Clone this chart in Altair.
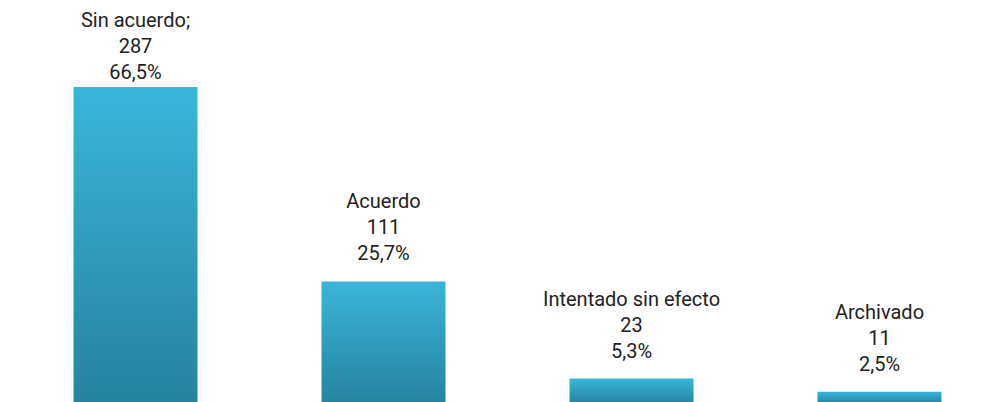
import altair as alt
import pandas as pd

categories = ["Sin acuerdo;", "Acuerdo", "Intentado sin efecto", "Archivado"]
counts = [287, 111, 23, 11]
percents = ["66,5%", "25,7%", "5,3%", "2,5%"]

df = pd.DataFrame({
    "cat": categories,
    "n": counts,
    "pct": percents,
})
df["nlabel"] = df["n"].astype(str)

x = alt.X("cat:N", sort=categories, axis=None,
          scale=alt.Scale(range=[3.5, 995.5], paddingInner=0.5, paddingOuter=0.25))
y = alt.Y("n:Q", axis=None, scale=alt.Scale(domain=[0, 287], range=[396, 79]))

grad = alt.Gradient(
    gradient="linear",
    stops=[alt.GradientStop(color="#39B5DA", offset=0),
           alt.GradientStop(color="#2683A0", offset=1)],
    x1=0, x2=0, y1=0, y2=1,
)

bars = alt.Chart(df).mark_bar(fill=grad, clip=False).encode(x=x, y=y)

# label position: offset above bar, capped near top
lab = alt.Chart(df).transform_calculate(
    ly="min(datum.n + 19, 294.3)"
)
ly = alt.Y("ly:Q", axis=None, scale=alt.Scale(domain=[0, 287], range=[396, 79]))
txt_kw = dict(font="Roboto", fontSize=20, fontWeight="normal", color="#222222",
              baseline="alphabetic", align="center")

t3 = lab.mark_text(**txt_kw).encode(x=x, y=ly, text="pct:N")
t2 = lab.mark_text(dy=-26, **txt_kw).encode(x=x, y=ly, text="nlabel:N")
t1 = lab.mark_text(dy=-52, **txt_kw).encode(x=x, y=ly, text="cat:N")

chart = alt.layer(bars, t1, t2, t3).properties(
    width=980, height=394, autosize=alt.AutoSizeParams(type="none"), padding=0
).configure_view(stroke=None)

chart.save("out.html", embed_options={"renderer": "svg", "actions": False})
